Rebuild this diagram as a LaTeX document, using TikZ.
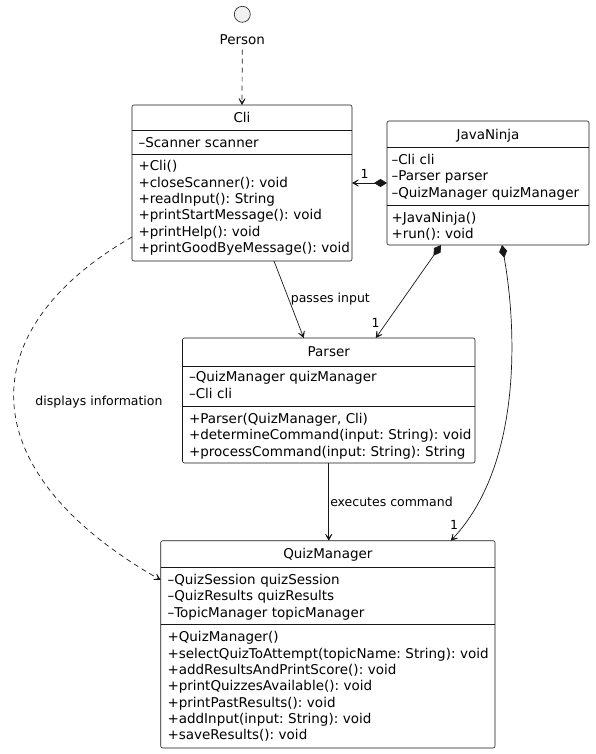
\documentclass[tikz,border=0pt]{standalone}
\usepackage{fontspec}
\setmainfont{DejaVu Sans}
\usetikzlibrary{arrows.meta}
\definecolor{c181818}{RGB}{24,24,24}
\definecolor{cf1f1f1}{RGB}{241,241,241}
\newcommand{\umlfont}{\fontsize{13.5}{16.3}\selectfont}
\newcommand{\umllabelfont}{\fontsize{12.5}{14}\selectfont}
\frenchspacing

\begin{document}
\begin{tikzpicture}[y=1pt, x=1pt, yscale=-1, inner sep=0pt, outer sep=0pt,
  classbox/.style={draw=c181818, fill=white, line width=0.6pt, rounded corners=2pt},
  sepline/.style={draw=c181818, line width=0.6pt},
  members/.style={anchor=base west, align=left, text width=#1, font=\umlfont},
  classtitle/.style={anchor=base, font=\umlfont},
  edgelabel/.style={font=\umllabelfont},
  assoc/.style={draw=c181818, line width=0.7pt, -{Stealth[length=10pt,width=11pt,inset=7pt]}},
  comp/.style={assoc, {Diamond[length=13pt,width=8pt]}-{Stealth[length=10pt,width=11pt,inset=7pt]}},
  dep/.style={assoc, dash pattern=on 5pt off 4pt}]
\useasboundingbox (0,0) rectangle (595,754);

% actor
\node[circle, draw=c181818, fill=cf1f1f1, line width=0.6pt, minimum size=16pt]
  (personicon) at (242.3,14.3) {};
\path (242.3,44.5) node[classtitle] (personlabel) {Person};

% class Cli
\node[classbox, minimum width=220pt, minimum height=156pt] (cli) at (242,183) {};
\path[sepline] (cli.west |- 0,130) -- (cli.east |- 0,130);
\path[sepline] (cli.west |- 0,154) -- (cli.east |- 0,154);
\path (cli.north |- 0,122.5) node[classtitle] (clititle) {Cli};
\path (138.5,147.8) node[members=213pt] (cliattrs) {–Scanner scanner};
\path (138.5,171) node[members=213pt] (climethods) {+Cli()\\+closeScanner(): void\\
  +readInput(): String\\+printStartMessage(): void\\+printHelp(): void\\
  +printGoodByeMessage(): void};

% class JavaNinja
\node[classbox, minimum width=202pt, minimum height=124pt] (javaninja) at (488,183) {};
\path[sepline] (javaninja.west |- 0,147) -- (javaninja.east |- 0,147);
\path[sepline] (javaninja.west |- 0,205) -- (javaninja.east |- 0,205);
\path (javaninja.north |- 0,139.5) node[classtitle] (javaninjatitle) {JavaNinja};
\path (391.5,164.5) node[members=197pt] (javaninjaattrs) {–Cli cli\\–Parser parser\\
  –QuizManager quizManager};
\path (391.5,222) node[members=197pt] (javaninjamethods) {+JavaNinja()\\+run(): void};

% class Parser
\node[classbox, minimum width=292.5pt, minimum height=125pt] (parser) at (328.75,400.5) {};
\path[sepline] (parser.west |- 0,366) -- (parser.east |- 0,366);
\path[sepline] (parser.west |- 0,406.7) -- (parser.east |- 0,406.7);
\path (parser.north |- 0,356.5) node[classtitle] (parsertitle) {Parser};
\path (189,381.8) node[members=286pt] (parserattrs) {–QuizManager quizManager\\–Cli cli};
\path (189,423.5) node[members=286pt] (parsermethods) {+Parser(QuizManager, Cli)\\
  +determineCommand(input: String): void\\+processCommand(input: String): String};

% class QuizManager
\node[classbox, minimum width=334.3pt, minimum height=207.3pt] (quizmanager) at (327.85,644.35) {};
\path[sepline] (quizmanager.west |- 0,567.3) -- (quizmanager.east |- 0,567.3);
\path[sepline] (quizmanager.west |- 0,624) -- (quizmanager.east |- 0,624);
\path (quizmanager.north |- 0,558.5) node[classtitle] (quizmanagertitle) {QuizManager};
\path (167.5,584.5) node[members=327pt] (quizmanagerattrs) {–QuizSession quizSession\\
  –QuizResults quizResults\\–TopicManager topicManager};
\path (167.5,641.8) node[members=327pt] (quizmanagermethods) {+QuizManager()\\
  +selectQuizToAttempt(topicName: String): void\\+addResultsAndPrintScore(): void\\
  +printQuizzesAvailable(): void\\+printPastResults(): void\\
  +addInput(input: String): void\\+saveResults(): void};

% relations
\draw[dep, shorten <=5pt] (personlabel.south) -- (cli.north);
\draw[comp] (javaninja.west) -- (cli.east);
\path (364.5,178.5) node[anchor=base, edgelabel] (clicount) {1};
\draw[assoc] ([xshift=32pt]cli.south) -- ([xshift=-25pt]parser.north)
  node[midway, right=2pt, edgelabel] (passeslabel) {passes input};
\draw[comp] ([xshift=-47pt]javaninja.south) -- ([xshift=47pt]parser.north);
\path (375.7,327.5) node[anchor=base, edgelabel] (parsercount) {1};
\draw[assoc] (parser.south) -- (parser.south |- quizmanager.north)
  node[midway, right=1.5pt, edgelabel] (executeslabel) {executes command};
\draw[comp] ([xshift=14pt]javaninja.south) .. controls (517,330) and (522,465) ..
  ([xshift=123pt]quizmanager.north);
\path (454,529.5) node[anchor=base, edgelabel] (quizmanagercount) {1};
\draw[dep] (cli.west |- 0,237) .. controls (-30,330) and (-30,471) ..
  (quizmanager.west |- 0,580);
\path (99,401.7) node[edgelabel] (displayslabel) {displays information};
\end{tikzpicture}
\end{document}
